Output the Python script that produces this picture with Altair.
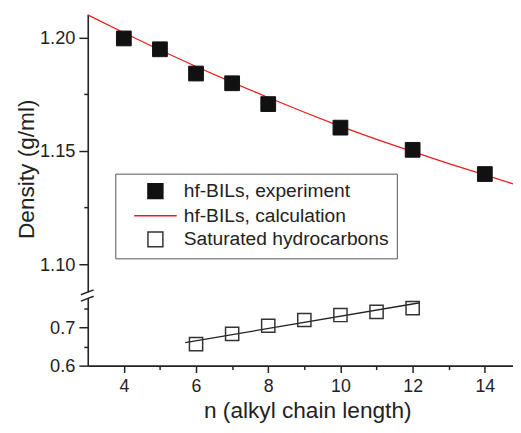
import altair as alt
import pandas as pd

FONT = "Liberation Sans"

# ---- data ----
S_EXP = "hf-BILs, experiment"
S_CALC = "hf-BILs, calculation"
S_HC = "Saturated hydrocarbons"
series_names = [S_EXP, S_CALC, S_HC]

exp_n = [4, 5, 6, 7, 8, 10, 12, 14]
exp_density = [1.1997, 1.1949, 1.1842, 1.1799, 1.1707, 1.1603, 1.1505, 1.1398]

calc_n = [3, 4, 5, 6, 7, 8, 9, 10, 11, 12, 13, 14, 15]
calc_density = [1.2101, 1.2022, 1.1946, 1.1873, 1.1803, 1.1736, 1.1671,
                1.1609, 1.1551, 1.1497, 1.1444, 1.1394, 1.1344]

hc_n = [6, 7, 8, 9, 10, 11, 12]
hc_density = [0.656, 0.683, 0.704, 0.719, 0.732, 0.740, 0.750]

fit_n = [5.7, 12.2]
fit_density = [0.660, 0.764]

x_major = [4, 6, 8, 10, 12, 14]
x_minor = [5, 7, 9, 11, 13]
y_major = [0.6, 0.7, 1.10, 1.15, 1.20]
y_minor = [0.65, 0.75, 1.125, 1.175]

# broken y axis: piecewise scale (lower panel, gap, upper panel)
y_domain = [0.6, 0.772, 1.0878, 1.2104]
x_domain = [3, 14.78]

W, H = 432, 357
y_range = [H, 290, 282, 0]

exp_df = pd.DataFrame({"n": exp_n, "d": exp_density, "series": S_EXP})
calc_df = pd.DataFrame({"n": calc_n, "d": calc_density, "series": S_CALC})
hc_df = pd.DataFrame({"n": hc_n, "d": hc_density, "series": S_HC})
fit_df = pd.DataFrame({"n": fit_n, "d": fit_density})
one = pd.DataFrame({"k": [0]})

x_major_list = ",".join(str(v) for v in x_major)
y_major_list = ",".join(str(v) for v in y_major)

x_axis = alt.Axis(
    values=sorted(x_major + x_minor),
    title="n (alkyl chain length)",
    grid=False,
    labelExpr=f"indexof([{x_major_list}], datum.value) >= 0 ? format(datum.value, 'd') : ''",
    tickSize={"condition": {"test": f"indexof([{x_major_list}], datum.value) >= 0", "value": 7}, "value": 4},
    labelPadding=5, labelFontSize=18,
    titleX=223, titleY=53, titleAnchor="middle", titleAlign="center",
    titleBaseline="alphabetic",
)
y_axis = alt.Axis(
    values=sorted(y_major + y_minor),
    title="Density (g/ml)",
    grid=False,
    labelExpr=(f"indexof([{y_major_list}], datum.value) < 0 ? '' : "
               "(datum.value >= 1 ? format(datum.value, '.2f') : format(datum.value, '.1f'))"),
    tickSize={"condition": {"test": f"indexof([{y_major_list}], datum.value) >= 0", "value": 9}, "value": 4},
    labelPadding=4,
    titleAngle=270, titleX=-55, titleY=157, titleAlign="center",
    titleBaseline="alphabetic",
)

x_scale = alt.Scale(domain=x_domain, nice=False, zero=False)
y_scale = alt.Scale(domain=y_domain, range=y_range, nice=False, zero=False)

X = alt.X("n:Q", scale=x_scale, axis=x_axis)
Y = alt.Y("d:Q", scale=y_scale, axis=y_axis)

legend = alt.Legend(
    title=None, orient="none", legendX=28, legendY=162,
    fillColor="white", strokeColor="#555555",
    padding=8, rowPadding=3, symbolOffset=23, labelOffset=19,
    symbolSize=230, symbolStrokeWidth=1.5, labelLimit=0,
    labelFont=FONT, labelFontSize=19.5, labelColor="#222222",
)
shape_enc = alt.Shape("series:N", scale=alt.Scale(domain=series_names,
                      range=["square", "M-2.85,0H2.85", "square"]), legend=legend)
fill_enc = alt.Fill("series:N", scale=alt.Scale(domain=series_names,
                    range=["#111111", "transparent", "transparent"]), legend=legend)
stroke_enc = alt.Stroke("series:N", scale=alt.Scale(domain=series_names,
                        range=["#111111", "#ee1c1c", "#333333"]), legend=legend)

calc_layer = alt.Chart(calc_df).mark_line(strokeWidth=1.3, clip=True).encode(
    x=X, y=Y, stroke=stroke_enc)
fit_layer = alt.Chart(fit_df).mark_line(strokeWidth=1.3, color="#222222").encode(x=X, y=Y)
exp_layer = alt.Chart(exp_df).mark_point(size=225, opacity=1, strokeWidth=1).encode(
    x=X, y=Y, shape=shape_enc, fill=fill_enc, stroke=stroke_enc)
hc_layer = alt.Chart(hc_df).mark_point(size=180, opacity=1, strokeWidth=1.5).encode(
    x=X, y=Y, shape=shape_enc, fill=fill_enc, stroke=stroke_enc)

# axis break decoration
gap_cover = alt.Chart(one).mark_rect(color="white").encode(
    x=alt.value(-4), x2=alt.value(4), y=alt.value(282.5), y2=alt.value(289))
slash1 = alt.Chart(one).mark_rule(color="#222222", strokeWidth=1.5).encode(
    x=alt.value(-7), y=alt.value(285), x2=alt.value(6), y2=alt.value(280))
slash2 = alt.Chart(one).mark_rule(color="#222222", strokeWidth=1.5).encode(
    x=alt.value(-7), y=alt.value(291.5), x2=alt.value(6), y2=alt.value(286.5))

chart = alt.layer(
    calc_layer, fit_layer, exp_layer, hc_layer, gap_cover, slash1, slash2
).properties(
    width=W, height=H,
    autosize=alt.AutoSizeParams(type="none"),
    padding={"left": 81, "top": 3, "right": 0, "bottom": 57},
).configure_view(stroke=None).configure_axis(
    domainColor="#222222", domainWidth=1.6, tickColor="#222222", tickWidth=1.5,
    labelFont=FONT, labelFontSize=18.5, labelColor="#222222",
    titleFont=FONT, titleFontSize=23, titleFontWeight="normal", titleColor="#222222",
)

chart.save("out.html", embed_options={"renderer": "svg", "actions": False})
